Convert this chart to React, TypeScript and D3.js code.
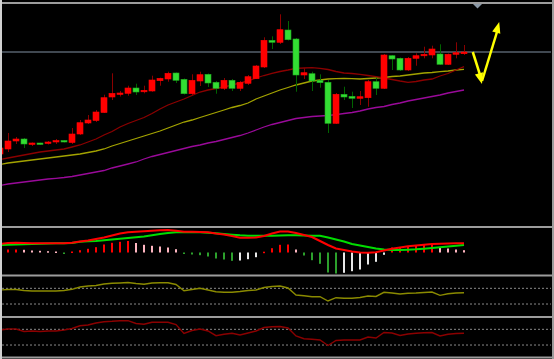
import React from "react";
import * as d3 from "d3";

// ---- data (arbitrary price units) ----
const opens = [76, 81, 89, 91, 86, 87, 86.5, 88.3, 89.5, 87.5, 96, 107, 109.5, 117.5, 133, 135.7, 136.7, 142, 138.3, 139, 149.3, 151, 157, 150.7, 136.3, 149, 155.7, 147.7, 141.7, 149.7, 141.7, 146.7, 151.3, 163, 189.7, 187.7, 200, 191, 155, 156.3, 149.7, 147.7, 106.7, 135.7, 133.7, 131.7, 132.3, 148.3, 141.7, 174.3, 171.7, 160, 171.7, 174.3, 175, 176, 165.7, 175.7, 176.3];
const highs = [84, 97, 93, 92, 87.5, 87.3, 89, 91, 90, 102, 110, 115, 120, 135.3, 156.7, 139, 144.3, 146.3, 144.3, 154.3, 152.3, 158.3, 157.5, 151.5, 155.7, 158.3, 156.5, 149, 152, 151, 149, 155, 165, 192.7, 193.7, 215.7, 209, 192, 161.7, 158.3, 155.7, 150, 137, 143.3, 138.3, 139, 150, 152.3, 176, 175, 172.5, 173, 176.7, 183.3, 184.3, 185.7, 176.5, 187.7, 185];
const lows = [74, 78, 86, 82, 84, 85, 85.5, 86, 87.5, 86, 95, 106, 108, 117, 130, 133.5, 134.3, 135, 136.7, 138.3, 144.3, 148.3, 147, 135.5, 135, 144, 143, 136.3, 140, 139, 139, 145, 151, 162, 181, 186, 189.5, 138.3, 151, 139, 142.3, 97, 106, 130, 122, 125, 123.3, 135, 141, 160, 159, 159, 164.3, 171.7, 171.7, 165, 165, 171.7, 175];
const closes = [82, 89, 91, 86, 87, 86, 88, 89.5, 88, 96, 107.3, 110, 118, 132.3, 136.7, 137, 142, 138, 139.7, 150, 151.7, 156.7, 149.7, 136.3, 149.7, 155.3, 147, 141.7, 149.7, 141.7, 147.7, 153.3, 164, 189.7, 187.7, 200.3, 190.3, 155, 157.3, 149, 147.3, 106.7, 135.7, 133, 131.7, 133.3, 148.3, 141.7, 175, 171, 160, 171.7, 174.3, 175.7, 181, 165.7, 175.7, 177.3, 178];

const maShort = [70.5, 72, 73.5, 75, 76.5, 78, 79, 80, 81, 83, 85, 88, 91, 95, 98.5, 103, 106.5, 109.5, 112.5, 116.5, 121, 125, 128, 131, 134.5, 138, 140, 141.5, 143, 145, 147, 149, 152, 154.5, 156.7, 158.5, 160, 161.7, 162, 162.3, 161.7, 160.5, 158.5, 157, 156.5, 155.7, 154.5, 153.3, 152, 150.5, 149, 147.7, 148.5, 150, 151, 154, 156.5, 160, 163.3];
const maMid = [65.5, 67, 68, 69, 70, 71, 72, 73, 74, 75, 76, 77.5, 79, 81, 84, 86.5, 89, 91.5, 94, 96.5, 99, 102, 105, 108, 110, 112.5, 115, 117.5, 120, 122.5, 124.5, 127, 131, 134, 137, 140, 142.5, 145, 147, 149, 150, 151, 151.3, 151.5, 151.3, 151, 151.5, 152, 152.5, 153.5, 154, 155, 156, 157, 157.5, 158.3, 159, 160, 160.7];
const maLong = [44.5, 46, 47, 48, 49, 50, 51, 51.7, 52.5, 53.5, 55, 56.5, 58, 59.5, 62, 64, 66, 68, 71, 73.5, 75.5, 77.5, 79.5, 81.5, 83.5, 85, 87, 88.5, 90.5, 92.5, 94.5, 97, 100, 103, 105.5, 107.5, 109.5, 111.5, 112.5, 113.5, 114, 114.5, 115.3, 116.5, 117.5, 119, 121, 122.5, 123.5, 125.5, 127, 129, 130.5, 132, 133.5, 135, 137, 138.5, 140];

const dif = [8.5, 9.5, 9.8, 9.5, 9.2, 9.2, 9.2, 9.2, 9.2, 9.8, 11, 12, 13.5, 15, 17, 19, 20.2, 20.7, 21.3, 21.8, 22.3, 22.5, 21.7, 20.8, 20.7, 20.5, 20.2, 19, 18, 16.5, 14.8, 14.7, 15, 16.5, 19, 21, 21, 19.5, 17.5, 15.5, 11.5, 7.5, 4, 2.5, 1, 0, -0.2, 0.2, 2, 3.8, 5, 6.2, 7, 7.8, 8.5, 8.8, 9, 9.2, 9.2];
const dea = [7.5, 7.7, 8, 8.2, 8.5, 8.7, 9, 9.2, 9.2, 9.5, 10.8, 11.2, 11.5, 12.2, 13, 13.8, 14.5, 15.2, 16, 17.2, 18.5, 19.5, 20.2, 20.2, 20.2, 20.2, 19.8, 19.2, 18.5, 17.8, 17.2, 16.8, 16.8, 16.8, 16.8, 17, 17.2, 17.2, 17, 16.8, 16.8, 15, 13, 11, 8.5, 7, 5.5, 4, 3, 2.5, 2.5, 2.8, 3.2, 3.8, 4.5, 5.2, 6, 6.8, 7.5];
const hist = [3, 3, 3, 2.7, 2, 1.7, 1.3, 1, -0.8, 1, 2.3, 3.7, 5.3, 8, 9.7, 10.7, 11.5, 9.5, 7.7, 6.7, 6, 5, 3.3, -1.3, -2, -2.7, -4, -6, -7, -8.3, -8, -6.7, -4.7, 0.8, 4.3, 7.7, 8, 3, -3, -7.7, -11.3, -20, -21, -20.3, -18.7, -17, -12, -9.3, -2.3, 5, 5.5, 6.5, 7, 7.5, 8, 4.7, 4, 3, 2.3];

const rsiA = [65.7, 67, 67, 64.5, 63.2, 63.2, 63.2, 63.2, 64.5, 67.5, 73.4, 75.9, 77.2, 81, 82.8, 83.6, 84.8, 82.3, 80.3, 83.6, 84.3, 84.3, 79.7, 63.9, 67, 70.1, 65.7, 61.4, 60.1, 59.9, 61.9, 64.5, 65.7, 72.1, 74.6, 75.9, 70.8, 53, 51.2, 48.7, 48.7, 37.7, 46.1, 44.6, 44.6, 46.6, 50.4, 49.2, 59.9, 58.1, 55.5, 57.3, 58.1, 59.4, 60.6, 52.2, 56.3, 58.1, 58.9];
const rsiB = [68.3, 70.8, 70.8, 64.5, 65.7, 64.5, 65.7, 65.7, 68.3, 72.1, 79.2, 81, 86.1, 89.4, 90.4, 92, 92, 84.8, 82.8, 87.9, 87.9, 87.9, 82.3, 59.4, 67, 70.8, 65.7, 53.8, 57.3, 59.9, 55.5, 60.6, 65.7, 74.6, 76.7, 77.2, 73.4, 53, 46.1, 44.6, 42.8, 28.8, 41.5, 42.8, 42.8, 42.8, 50.4, 47.9, 61.9, 60.6, 54.3, 58.1, 59.9, 61.1, 61.9, 53, 57.3, 59.4, 59.9];
const rsiLevels = [70, 30];

const lastPrice = 178;
// annotation arrow (index, price)
const arrowPts = [
  { i: 59.1, p: 178 },
  { i: 60.25, p: 146 },
  { i: 62.4, p: 208 },
];

const W = 554;
const H = 359;

export default function App() {
  const n = closes.length;
  const x = d3.scaleLinear().domain([0, n - 1]).range([0, (n - 1) * 8]);
  const yMain = d3.scaleLinear().domain([0, 227]).range([230, 3]);
  const yMacd = d3.scaleLinear().domain([-22, 22]).range([274.5, 230.5]);
  const yA = d3.scaleLinear().domain([0, 100]).range([315.8, 276.55]);
  const yB = d3.scaleLinear().domain([0, 100]).range([356.8, 317.55]);

  const lineOf = (vals: number[], ys: d3.ScaleLinear<number, number>) =>
    d3.line<number>().x((_, i) => x(i)).y((v) => ys(v))(vals) || "";

  const candles = closes.map((c, i) => {
    const o = opens[i];
    const up = c >= o;
    const cx = Math.round(x(i));
    const top = yMain(Math.max(o, c));
    const bot = yMain(Math.min(o, c));
    const bh = Math.max(1.5, bot - top);
    return (
      <g key={i}>
        <rect x={cx} y={yMain(highs[i])} width={1} height={yMain(lows[i]) - yMain(highs[i])} fill={up ? "#8b0000" : "#006400"} />
        <rect x={cx - 3} y={top} width={6} height={bh} fill={up ? "#ff0000" : "#33dd33"} stroke={up ? "#ff0000" : "#1faa1f"} strokeWidth={0.6} />
      </g>
    );
  });

  const bars = hist.map((v, i) => {
    const prev = i > 0 ? hist[i - 1] : v;
    let col: string;
    if (v >= 0) col = v >= prev ? "#ff0000" : "#ffb6c1";
    else col = v <= prev ? "#2ca02c" : "#e8e8e8";
    const y0 = yMacd(0);
    const y1 = yMacd(v);
    return <rect key={i} x={Math.round(x(i)) - 1} y={Math.min(y0, y1)} width={2} height={Math.max(1.5, Math.abs(y1 - y0))} fill={col} />;
  });

  const ap = arrowPts.map((d) => [x(d.i), yMain(d.p)] as [number, number]);
  const head = (from: [number, number], tip: [number, number]) => {
    const dx = tip[0] - from[0];
    const dy = tip[1] - from[1];
    const len = Math.hypot(dx, dy);
    const ux = dx / len, uy = dy / len;
    const bx = tip[0] - ux * 11, by = tip[1] - uy * 11;
    const px = -uy * 4.2, py = ux * 4.2;
    return `M${tip[0]},${tip[1]}L${bx + px},${by + py}L${bx - px},${by - py}Z`;
  };

  const sepYs = [3, 227, 275.5, 317, 357.5];

  return (
    <svg width={W} height={H} style={{ position: "absolute", left: 0, top: 0, display: "block" }}>
      <defs>
        <clipPath id="plot">
          <rect x={2} y={4} width={549} height={352} />
        </clipPath>
      </defs>
      <rect x={0} y={0} width={W} height={H} fill="#000" />
      <g clipPath="url(#plot)">
        {/* last price line */}
        <line x1={2} x2={552} y1={yMain(lastPrice)} y2={yMain(lastPrice)} stroke="#56616c" strokeWidth={1.5} />
        <path d={lineOf(maLong, yMain)} fill="none" stroke="#9a0a9a" strokeWidth={1.3} />
        <path d={lineOf(maMid, yMain)} fill="none" stroke="#a3a300" strokeWidth={1.3} />
        <path d={lineOf(maShort, yMain)} fill="none" stroke="#8b0000" strokeWidth={1.3} />
        {candles}
        {/* MACD */}
        {bars}
        <path d={lineOf(dea, yMacd)} fill="none" stroke="#00dd00" strokeWidth={2} />
        <path d={lineOf(dif, yMacd)} fill="none" stroke="#ff0000" strokeWidth={2} />
        {/* RSI A */}
        {rsiLevels.map((l) => (
          <line key={"a" + l} x1={2} x2={552} y1={yA(l)} y2={yA(l)} stroke="#8a8a8a" strokeWidth={1} strokeDasharray="2 2" />
        ))}
        <path d={lineOf(rsiA, yA)} fill="none" stroke="#8a8a00" strokeWidth={1.4} />
        {/* RSI B */}
        {rsiLevels.map((l) => (
          <line key={"b" + l} x1={2} x2={552} y1={yB(l)} y2={yB(l)} stroke="#8a8a8a" strokeWidth={1} strokeDasharray="2 2" />
        ))}
        <path d={lineOf(rsiB, yB)} fill="none" stroke="#8b0000" strokeWidth={1.4} />
        {/* annotation arrows */}
        <line x1={ap[0][0]} y1={ap[0][1]} x2={ap[1][0] - 1} y2={ap[1][1] - 6} stroke="#ffff00" strokeWidth={2.5} />
        <path d={head(ap[0], ap[1])} fill="#ffff00" />
        <line x1={ap[1][0]} y1={ap[1][1] - 3} x2={ap[2][0] - 1} y2={ap[2][1] + 6} stroke="#ffff00" strokeWidth={2.5} />
        <path d={head(ap[1], ap[2])} fill="#ffff00" />
      </g>
      {/* frame */}
      {sepYs.map((y, k) => (
        <line key={k} x1={0} x2={W} y1={y} y2={y} stroke="#9c9c9c" strokeWidth={2} />
      ))}
      <rect x={0} y={0} width={2} height={H} fill="#d0d0d0" />
      <rect x={552} y={0} width={2} height={H} fill="#9c9c9c" />
      <path d="M473,4 L482,4 L477.5,8.5 Z" fill="#8a98a6" />
    </svg>
  );
}
